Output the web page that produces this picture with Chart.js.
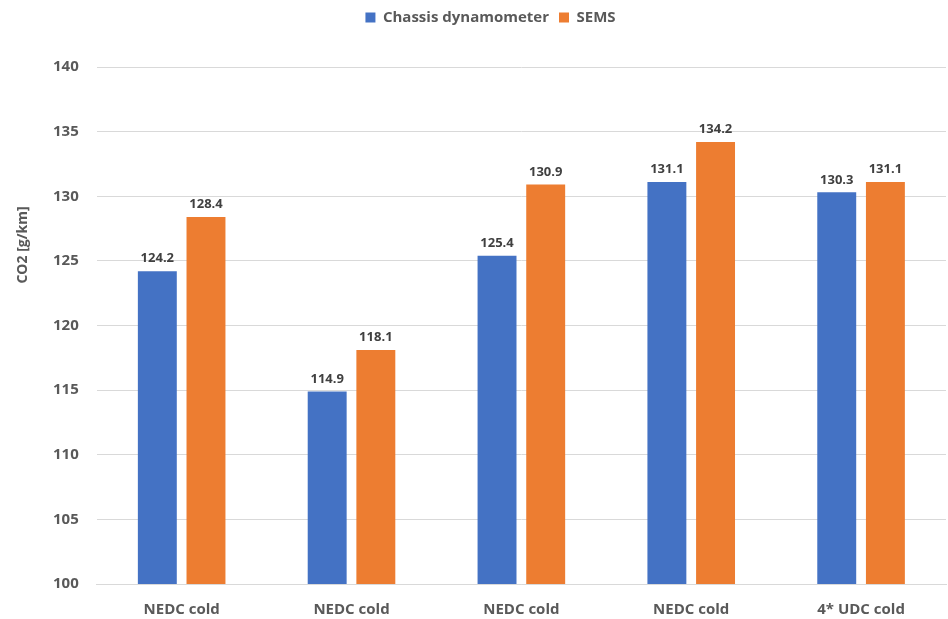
<!DOCTYPE html>
<html>
<head>
<meta charset="utf-8">
<script src="https://cdn.jsdelivr.net/npm/chart.js@4"></script>
<style>
  html, body { margin: 0; padding: 0; background: #fff; }
  #wrap { width: 948px; height: 619px; }
</style>
</head>
<body>
<div id="wrap"><canvas id="grafico" width="948" height="619"></canvas></div>
<script>
// Datos
const categorias = ['NEDC cold', 'NEDC cold', 'NEDC cold', 'NEDC cold', '4* UDC cold'];
const dinamometro = [124.2, 114.9, 125.4, 131.1, 130.3];
const sems = [128.4, 118.1, 130.9, 134.2, 131.1];
const nombresSeries = ['Chassis dynamometer', 'SEMS'];
const coloresSeries = ['#4472C4', '#ED7D31'];
const tituloEjeY = 'CO2 [g/km]';

const fuente = '"Open Sans", "Liberation Sans", sans-serif';

// Más espacio debajo de la leyenda
const espacioLeyenda = {
    id: 'espacioLeyenda',
    beforeInit(chart) {
        const fitOriginal = chart.legend.fit;
        chart.legend.fit = function () {
            fitOriginal.bind(chart.legend)();
            this.height += 32;
        };
    }
};

// Etiquetas de valor encima de cada barra + título del eje Y
const etiquetasPlugin = {
    id: 'etiquetas',
    afterDatasetsDraw(chart) {
        const ctx = chart.ctx;
        ctx.save();
        ctx.font = 'bold 13px ' + fuente;
        ctx.fillStyle = '#404040';
        ctx.textAlign = 'center';
        ctx.textBaseline = 'bottom';
        chart.data.datasets.forEach((ds, i) => {
            chart.getDatasetMeta(i).data.forEach((bar, j) => {
                ctx.fillText(ds.data[j].toFixed(1), bar.x, bar.y - 6);
            });
        });
        // título del eje Y
        ctx.translate(23, 245);
        ctx.rotate(-Math.PI / 2);
        ctx.textBaseline = 'middle';
        ctx.font = 'bold 14px ' + fuente;
        ctx.fillStyle = '#595959';
        ctx.fillText(tituloEjeY, 0, 0);
        ctx.restore();
    }
};

new Chart(document.getElementById('grafico').getContext('2d'), {
    type: 'bar',
    data: {
        labels: categorias,
        datasets: [
            { label: nombresSeries[0], data: dinamometro, backgroundColor: coloresSeries[0] },
            { label: nombresSeries[1], data: sems, backgroundColor: coloresSeries[1] }
        ]
    },
    options: {
        responsive: false,
        animation: false,
        categoryPercentage: 0.573,
        barPercentage: 0.8,
        layout: { padding: { left: 35, right: 2, top: 0, bottom: -9 } },
        plugins: {
            legend: {
                position: 'top',
                labels: {
                    boxWidth: 10,
                    boxHeight: 10,
                    padding: 10,
                    color: '#595959',
                    font: { family: fuente, size: 15, weight: 'bold' }
                }
            },
            tooltip: { enabled: false }
        },
        scales: {
            x: {
                grid: { display: false },
                border: { display: true, color: '#d9d9d9' },
                ticks: {
                    color: '#595959',
                    padding: 9,
                    font: { family: fuente, size: 15, weight: 'bold' }
                }
            },
            y: {
                min: 100,
                max: 140,
                ticks: {
                    stepSize: 5,
                    padding: 18,
                    color: '#595959',
                    font: { family: fuente, size: 15, weight: 'bold' }
                },
                grid: { color: '#d9d9d9', drawTicks: false },
                border: { display: false }
            }
        }
    },
    plugins: [espacioLeyenda, etiquetasPlugin]
});
</script>
</body>
</html>
